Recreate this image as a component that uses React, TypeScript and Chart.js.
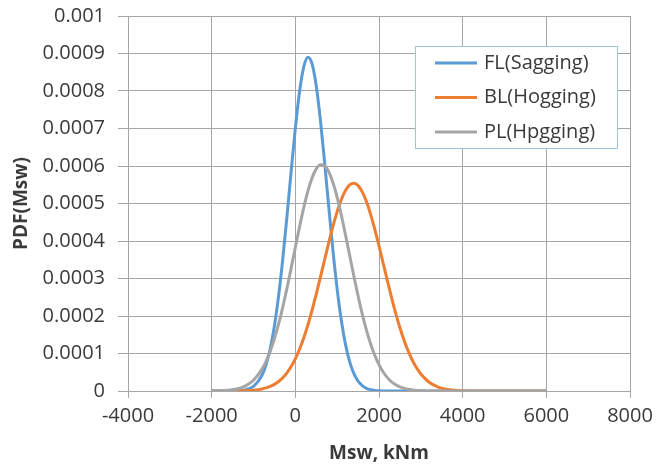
import React, { useEffect, useRef } from "react";
import { Chart, registerables } from "chart.js";

Chart.register(...registerables);

// Bending moment Msw (kNm) sample points
const mswValues = [
  -2000, -1800, -1600, -1400, -1200, -1000, -800,
  -700, -600, -500, -400, -300, -200, -100, 0, 100, 200, 300, 400, 500,
  600, 700, 800, 900, 1000, 1100, 1200, 1300, 1400, 1500, 1600, 1700, 1800,
  1900, 2000, 2100, 2200, 2300, 2400, 2500, 2600, 2700, 2800, 2900, 3000,
  3200, 3400, 3600, 3800, 4000, 4500, 5000, 5500, 6000,
];

const flSagging = [
  0, 1e-8, 1e-7, 6.1e-7, 3.04e-6, 1.24e-5, 4.13e-5,
  7.01e-5, 1.131e-4, 1.736e-4, 2.535e-4, 3.522e-4, 4.656e-4, 5.854e-4, 7.005e-4, 7.974e-4, 8.636e-4, 8.898e-4, 8.722e-4, 8.135e-4,
  7.218e-4, 6.093e-4, 4.893e-4, 3.739e-4, 2.718e-4, 1.88e-4, 1.237e-4, 7.75e-5, 4.61e-5, 2.61e-5, 1.41e-5, 7.2e-6, 3.5e-6,
  1.6e-6, 7e-7, 3e-7, 1e-7, 0, 0, 0, 0, 0, 0, 0, 0,
  0, 0, 0, 0, 0, 0, 0, 0, 0,
];

const blHogging = [
  0, 3e-8, 1e-7, 3e-7, 8.6e-7, 2.24e-6, 5.42e-6,
  8.2e-6, 1.215e-5, 1.767e-5, 2.52e-5, 3.526e-5, 4.837e-5, 6.51e-5, 8.59e-5, 1.113e-4, 1.414e-4, 1.761e-4, 2.153e-4, 2.581e-4,
  3.034e-4, 3.5e-4, 3.96e-4, 4.395e-4, 4.784e-4, 5.108e-4, 5.35e-4, 5.497e-4, 5.539e-4, 5.476e-4, 5.309e-4, 5.05e-4, 4.711e-4,
  4.311e-4, 3.87e-4, 3.407e-4, 2.942e-4, 2.492e-4, 2.071e-4, 1.688e-4, 1.35e-4, 1.059e-4, 8.14e-5, 6.14e-5, 4.55e-5,
  2.35e-5, 1.125e-5, 4.99e-6, 2.04e-6, 7.8e-7, 3e-8, 0, 0, 0,
];

const plHpgging = [
  2.15e-7, 6.9e-7, 2.01e-6, 5.33e-6, 1.293e-5, 2.861e-5, 5.774e-5,
  7.93e-5, 1.064e-4, 1.395e-4, 1.787e-4, 2.238e-4, 2.739e-4, 3.276e-4, 3.83e-4, 4.375e-4, 4.885e-4, 5.33e-4, 5.684e-4, 5.924e-4,
  6.034e-4, 6.006e-4, 5.843e-4, 5.555e-4, 5.162e-4, 4.687e-4, 4.16e-4, 3.608e-4, 3.058e-4, 2.534e-4, 2.051e-4, 1.623e-4, 1.255e-4,
  9.49e-5, 7.01e-5, 5.06e-5, 3.57e-5, 2.46e-5, 1.656e-5, 1.091e-5, 7.02e-6, 4.42e-6, 2.71e-6, 1.63e-6, 9.6e-7,
  3.1e-7, 9e-8, 0, 0, 0, 0, 0, 0, 0,
];

const seriesLabels = ["FL(Sagging)", "BL(Hogging)", "PL(Hpgging)"];
const seriesColors = ["#5B9BD5", "#ED7D31", "#A5A5A5"];

const xTickLabels = ["-4000", "-2000", "0", "2000", "4000", "6000", "8000"];
const yTickLabels = [
  "0", "0.0001", "0.0002", "0.0003", "0.0004", "0.0005",
  "0.0006", "0.0007", "0.0008", "0.0009", "0.001",
];

const xTitle = "Msw, kNm";
const yTitle = "PDF(Msw)";

const FONT = "'Open Sans', 'DejaVu Sans', sans-serif";
const TEXT_COLOR = "#3A3A3A";
const GRID_COLOR = "#A6A6A6";

const boxLegend = {
  id: "boxLegend",
  afterDraw(chart: any) {
    const { ctx, chartArea } = chart;
    const left = chartArea.left + 287;
    const top = chartArea.top + 30;
    const w = 202;
    const h = 102;
    ctx.save();
    ctx.fillStyle = "#FFFFFF";
    ctx.fillRect(left, top, w, h);
    ctx.strokeStyle = "#9DC3E6";
    ctx.lineWidth = 1;
    ctx.strokeRect(left + 0.5, top + 0.5, w, h);
    ctx.font = `20px ${FONT}`;
    ctx.textBaseline = "middle";
    ctx.textAlign = "left";
    chart.data.datasets.forEach((ds: any, i: number) => {
      const y = top + 17 + i * 34.5;
      ctx.strokeStyle = ds.borderColor;
      ctx.lineWidth = 3;
      ctx.beginPath();
      ctx.moveTo(left + 20, y);
      ctx.lineTo(left + 62, y);
      ctx.stroke();
      ctx.fillStyle = TEXT_COLOR;
      ctx.fillText(ds.label, left + 69, y);
    });
    ctx.restore();
  },
};

export default function App() {
  const canvasRef = useRef<HTMLCanvasElement | null>(null);

  useEffect(() => {
    document.body.style.margin = "0";
    const canvas = canvasRef.current;
    if (!canvas) return;
    const seriesValues = [flSagging, blHogging, plHpgging];
    const chart = new Chart(canvas, {
      type: "line",
      data: {
        datasets: seriesValues.map((vals, i) => ({
          label: seriesLabels[i],
          data: mswValues.map((x, j) => ({ x, y: vals[j] })),
          borderColor: seriesColors[i],
          backgroundColor: seriesColors[i],
          borderWidth: 3,
          pointRadius: 0,
          fill: false,
          cubicInterpolationMode: "monotone" as const,
          order: 3 - i,
        })),
      },
      options: {
        animation: false,
        responsive: false,
        layout: { padding: { left: 0, top: 16, right: 27, bottom: 0 } },
        plugins: {
          legend: { display: false },
          tooltip: { enabled: false },
        },
        scales: {
          x: {
            type: "linear",
            min: -4000,
            max: 8000,
            ticks: {
              stepSize: 2000,
              color: TEXT_COLOR,
              font: { family: FONT, size: 20 },
              padding: 6,
              maxRotation: 0,
              callback: (_v: any, i: number) => xTickLabels[i],
            },
            grid: { color: GRID_COLOR, tickLength: 7, lineWidth: 1 },
            border: { color: GRID_COLOR },
            title: {
              display: true,
              text: xTitle,
              color: TEXT_COLOR,
              font: { family: FONT, size: 19, weight: "bold" },
              padding: { top: 0, bottom: 1 },
            },
            afterFit: (s: any) => {
              s.height = 75;
              s.paddingLeft = 0;
              s.paddingRight = 0;
            },
          },
          y: {
            type: "linear",
            min: 0,
            max: 0.001,
            ticks: {
              stepSize: 0.0001,
              color: TEXT_COLOR,
              font: { family: FONT, size: 20 },
              padding: 13,
              callback: (_v: any, i: number) => yTickLabels[i],
            },
            grid: { color: GRID_COLOR, tickLength: 10, lineWidth: 1 },
            border: { color: GRID_COLOR },
            title: {
              display: true,
              text: yTitle,
              color: TEXT_COLOR,
              font: { family: FONT, size: 19, weight: "bold" },
              padding: { top: 10, bottom: 0 },
            },
            afterFit: (s: any) => {
              s.width = 128;
              s.paddingTop = 0;
              s.paddingBottom = 0;
            },
          },
        },
      },
      plugins: [boxLegend],
    });
    return () => chart.destroy();
  }, []);

  return (
    <div style={{ width: 657, height: 466, position: "relative", background: "#fff" }}>
      <canvas ref={canvasRef} width={657} height={466} />
    </div>
  );
}
